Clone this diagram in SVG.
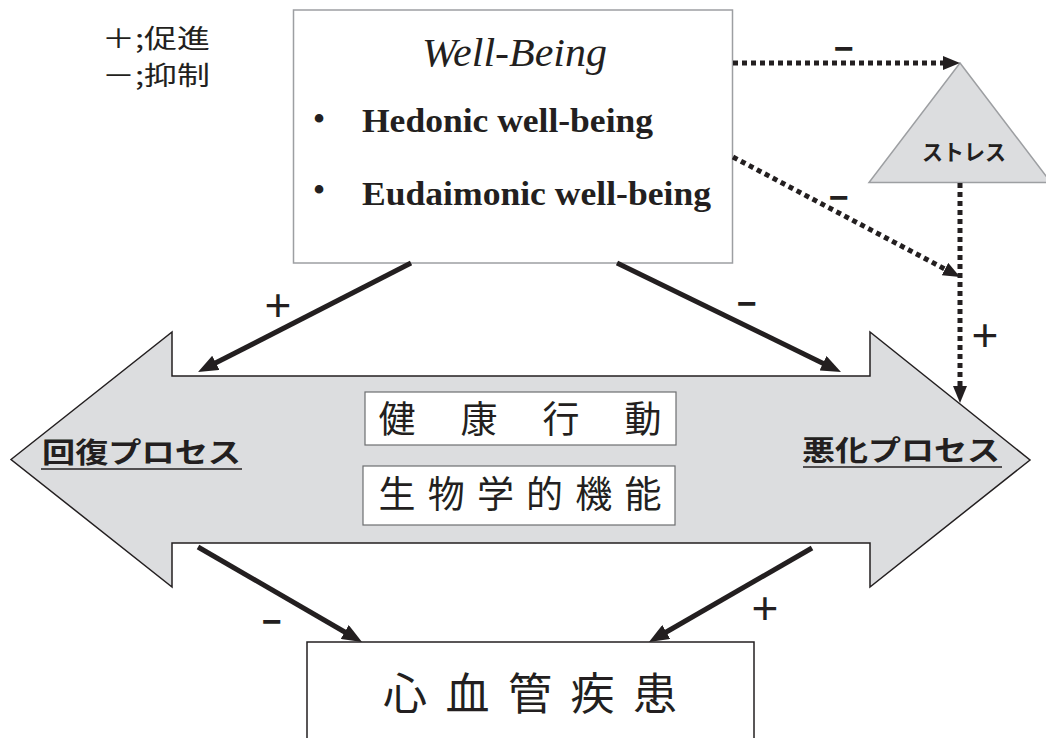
<svg xmlns="http://www.w3.org/2000/svg" width="1046" height="738" viewBox="0 0 1046 738">
  <style>
    .jp { font-family: "Noto Sans CJK JP", "Noto Sans CJK SC", sans-serif; fill: #231f20; }
    .jpb { font-family: "Noto Sans CJK JP", "Noto Sans CJK SC", sans-serif; font-weight: bold; fill: #231f20; }
    .serif { font-family: "Liberation Serif", "Times New Roman", Times, serif; fill: #231f20; }
    .sign { font-family: "Liberation Sans", Arial, sans-serif; fill: #231f20; text-anchor: middle; dominant-baseline: central; }
    .solid { stroke: #231f20; stroke-width: 5; fill: none; marker-end: url(#headSolid); }
    .dotted { stroke: #231f20; stroke-width: 5; stroke-dasharray: 5 4; fill: none; marker-end: url(#headDot); }
    .ul { stroke: #231f20; stroke-width: 1.6; }
  </style>
  <defs>
    <marker id="headSolid" viewBox="0 0 20 16" refX="6" refY="8" markerWidth="20" markerHeight="16" markerUnits="userSpaceOnUse" orient="auto">
      <path d="M0,0 L20,8 L0,16 z" fill="#231f20"/>
    </marker>
    <marker id="headDot" viewBox="0 0 17 14" refX="5" refY="7" markerWidth="17" markerHeight="14" markerUnits="userSpaceOnUse" orient="auto">
      <path d="M0,0 L17,7 L0,14 z" fill="#231f20"/>
    </marker>
  </defs>
  <rect width="1046" height="738" fill="#ffffff"/>

  <g id="legend">
    <text class="jp" x="102" y="48" font-size="26" textLength="108" lengthAdjust="spacingAndGlyphs">＋;促進</text>
    <text class="jp" x="102" y="85" font-size="26" textLength="108" lengthAdjust="spacingAndGlyphs">－;抑制</text>
  </g>

  <g id="process-arrow">
    <polygon points="11,459.5 172,332 172,376 870,376 870,332 1030,460 870,587 870,543 172,543 172,587" fill="#dcdddf" stroke="#231f20" stroke-width="1.5"/>
    <text class="jpb" x="42" y="463" font-size="28" textLength="199" lengthAdjust="spacingAndGlyphs">回復プロセス</text>
    <line class="ul" x1="41" y1="469" x2="242" y2="469"/>
    <text class="jpb" x="802" y="461" font-size="28" textLength="198" lengthAdjust="spacingAndGlyphs">悪化プロセス</text>
    <line class="ul" x1="803" y1="467" x2="1002" y2="467"/>
  </g>

  <g id="health-behavior">
    <rect x="365" y="392" width="311" height="53" fill="#ffffff" stroke="#6d6e71" stroke-width="1.2"/>
    <text class="jp" x="378.5" y="433" font-size="37" textLength="283" lengthAdjust="spacing">健 康 行 動</text>
  </g>

  <g id="biological-function">
    <rect x="363" y="466" width="312" height="59" fill="#ffffff" stroke="#6d6e71" stroke-width="1.2"/>
    <text class="jp" x="378.5" y="508" font-size="37" textLength="283" lengthAdjust="spacing">生物学的機能</text>
  </g>

  <g id="well-being">
    <rect x="293.5" y="10" width="439" height="253" fill="#ffffff" stroke="#9d9fa2" stroke-width="1.5"/>
    <text class="serif" x="422" y="66" font-size="39" font-style="italic" textLength="185" lengthAdjust="spacingAndGlyphs">Well-Being</text>
    <text class="serif" x="319" y="131" font-size="36" text-anchor="middle">•</text>
    <text class="serif" x="362" y="132" font-size="34" font-weight="bold" textLength="291" lengthAdjust="spacingAndGlyphs">Hedonic well-being</text>
    <text class="serif" x="319" y="202" font-size="36" text-anchor="middle">•</text>
    <text class="serif" x="362" y="205" font-size="34" font-weight="bold" textLength="349" lengthAdjust="spacingAndGlyphs">Eudaimonic well-being</text>
  </g>

  <g id="stress">
    <polygon points="960,63 1051,182.5 869,182.5" fill="#dcdddf" stroke="#9d9fa2" stroke-width="1.5"/>
    <text class="jpb" x="964" y="160" font-size="22" text-anchor="middle" textLength="84" lengthAdjust="spacingAndGlyphs">ストレス</text>
  </g>

  <g id="cvd">
    <rect x="307" y="642" width="447" height="110" fill="#ffffff" stroke="#231f20" stroke-width="1.5"/>
    <text class="jp" x="383" y="710" font-size="44" textLength="294" lengthAdjust="spacing">心血管疾患</text>
  </g>

  <g id="connectors">
    <line class="solid" x1="411" y1="263" x2="210.5" y2="365.6"/>
    <line class="solid" x1="617" y1="263" x2="828.4" y2="365.9"/>
    <line class="solid" x1="198" y1="547" x2="349.9" y2="635"/>
    <line class="solid" x1="812" y1="548" x2="661.1" y2="635"/>
    <line class="dotted" x1="733" y1="63" x2="948" y2="63"/>
    <line class="dotted" x1="733" y1="157" x2="949.4" y2="271.4"/>
    <line class="dotted" x1="960" y1="183" x2="960" y2="391"/>
    <text class="sign" x="278" y="305" font-size="46">+</text>
    <text class="sign" x="747" y="303" font-size="34" font-weight="bold">−</text>
    <text class="sign" x="844" y="48" font-size="34" font-weight="bold">−</text>
    <text class="sign" x="839" y="197" font-size="34" font-weight="bold">−</text>
    <text class="sign" x="985" y="335" font-size="46">+</text>
    <text class="sign" x="272" y="621" font-size="34" font-weight="bold">−</text>
    <text class="sign" x="765" y="608" font-size="46">+</text>
  </g>
</svg>
